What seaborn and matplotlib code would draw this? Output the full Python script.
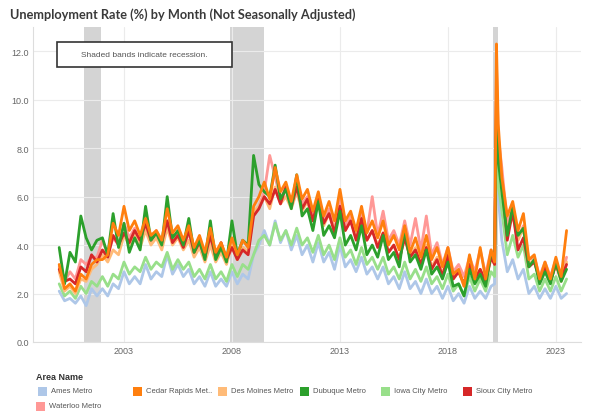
import pandas as pd
import matplotlib.pyplot as plt
import matplotlib.dates as mdates
from matplotlib.patches import Rectangle
import seaborn as sns

# --- DATA (quarterly readings Jan/Apr/Jul/Oct, plus extra months around the 2020 spike) ---
covid_months = ['2020-01-01', '2020-03-01', '2020-04-01', '2020-05-01', '2020-07-01', '2020-10-01']
dates = (list(pd.date_range('2000-01-01', '2019-10-01', freq='QS'))
         + list(pd.to_datetime(covid_months))
         + list(pd.date_range('2021-01-01', '2023-07-01', freq='QS')))

areas = ['Ames Metro', 'Cedar Rapids Metro', 'Des Moines Metro', 'Dubuque Metro',
         'Iowa City Metro', 'Sioux City Metro', 'Waterloo Metro']
legend_labels = ['Ames Metro', 'Cedar Rapids Met..', 'Des Moines Metro', 'Dubuque Metro',
                 'Iowa City Metro', 'Sioux City Metro', 'Waterloo Metro']
colors = ['#aec7e8', '#ff7f0e', '#ffbb78', '#2ca02c', '#98df8a', '#d62728', '#ff9896']

ames = [2.1, 1.7, 1.8, 1.6, 1.9, 1.5, 2.2, 1.9, 2.2, 1.9, 2.4, 2.2,
        2.9, 2.4, 2.7, 2.4, 3.2, 2.6, 2.9, 2.7, 3.6, 2.8, 3.2, 2.7,
        3.0, 2.4, 2.7, 2.3, 2.9, 2.3, 2.6, 2.3, 2.9, 2.4, 2.8, 2.6,
        3.6, 4.0, 4.6, 4.0, 5.0, 4.1, 4.6, 3.8, 4.4, 3.6, 4.0, 3.3,
        4.1, 3.3, 3.7, 3.0, 4.0, 3.1, 3.4, 2.9, 3.5, 2.8, 3.1, 2.6,
        3.1, 2.4, 2.7, 2.2, 2.9, 2.2, 2.5, 2.0, 2.6, 2.0, 2.3, 1.8,
        2.3, 1.7, 2.0, 1.6, 2.3, 1.8, 2.1, 1.8, 2.3, 2.4, 7.8, 6.0, 4.2, 2.9,
        3.4, 2.6, 3.0, 2.0, 2.3, 1.8, 2.2, 1.8, 2.3, 1.8, 2.0]

cedar_rapids = [3.2, 2.2, 2.4, 2.1, 2.8, 2.6, 3.2, 3.4, 3.4, 3.6, 4.9, 4.4,
                5.6, 4.6, 5.0, 4.4, 5.1, 4.4, 4.6, 4.2, 5.5, 4.5, 4.8, 4.2,
                4.8, 3.9, 4.4, 3.7, 4.7, 3.7, 4.1, 3.5, 4.3, 3.6, 4.2, 3.9,
                5.6, 6.0, 6.6, 5.9, 7.2, 6.2, 6.6, 5.8, 6.9, 5.9, 6.3, 5.4,
                6.2, 5.2, 5.8, 5.0, 6.3, 5.0, 5.4, 4.6, 5.6, 4.5, 5.0, 4.3,
                5.0, 4.0, 4.4, 3.8, 4.8, 3.7, 4.3, 3.5, 4.4, 3.4, 3.9, 3.1,
                3.9, 2.8, 3.0, 2.3, 3.6, 2.6, 3.9, 2.6, 3.8, 3.3, 12.3, 9.0, 6.8, 5.2,
                5.8, 4.6, 5.3, 3.4, 3.6, 2.6, 3.3, 2.6, 3.5, 2.7, 4.6]

des_moines = [2.9, 2.1, 2.3, 2.0, 2.6, 2.5, 3.0, 3.2, 3.6, 3.3, 3.8, 3.6,
              4.4, 4.0, 4.4, 3.9, 4.6, 4.0, 4.3, 3.8, 4.7, 4.0, 4.3, 3.8,
              4.2, 3.5, 3.9, 3.3, 4.0, 3.3, 3.7, 3.2, 4.0, 3.4, 3.9, 3.7,
              5.4, 5.6, 6.0, 5.5, 6.4, 5.7, 6.0, 5.5, 6.2, 5.4, 5.8, 5.0,
              5.7, 4.8, 5.3, 4.6, 5.5, 4.6, 5.0, 4.3, 5.0, 4.2, 4.6, 4.0,
              4.5, 3.7, 4.0, 3.4, 4.3, 3.5, 3.9, 3.2, 4.0, 3.1, 3.5, 2.8,
              3.5, 2.6, 2.9, 2.3, 3.2, 2.5, 3.0, 2.4, 3.5, 3.2, 10.8, 8.0, 6.2, 4.6,
              5.2, 4.2, 4.7, 3.2, 3.4, 2.6, 3.1, 2.5, 3.2, 2.5, 3.3]

dubuque = [3.9, 2.4, 3.7, 3.3, 5.2, 4.3, 3.8, 4.2, 4.3, 3.6, 5.3, 3.9,
           4.9, 3.7, 4.3, 3.8, 5.6, 4.2, 4.5, 4.0, 6.0, 4.3, 4.6, 4.0,
           5.1, 3.7, 4.2, 3.4, 5.0, 3.4, 3.9, 3.3, 5.0, 3.6, 4.2, 4.0,
           7.7, 6.5, 6.2, 6.0, 7.3, 5.9, 6.3, 5.5, 6.9, 5.2, 5.5, 4.6,
           5.8, 4.4, 4.8, 4.3, 5.4, 4.0, 4.4, 3.8, 4.8, 3.6, 4.0, 3.5,
           4.4, 3.4, 3.7, 3.1, 4.7, 3.3, 3.6, 3.0, 3.8, 2.8, 3.1, 2.6,
           3.3, 2.3, 2.4, 1.9, 3.0, 2.4, 2.8, 2.3, 3.7, 3.4, 9.6, 7.5, 6.2, 4.4,
           5.6, 4.4, 4.7, 3.1, 3.4, 2.4, 2.9, 2.4, 3.3, 2.5, 3.0]

iowa_city = [2.4, 1.9, 2.1, 1.8, 2.3, 2.0, 2.5, 2.3, 2.7, 2.3, 2.8, 2.6,
             3.3, 2.8, 3.1, 2.9, 3.5, 3.0, 3.3, 3.1, 3.7, 3.0, 3.4, 3.0,
             3.3, 2.7, 3.0, 2.6, 3.2, 2.6, 2.9, 2.5, 3.2, 2.7, 3.2, 3.0,
             3.6, 4.2, 4.4, 4.0, 4.9, 4.2, 4.6, 4.0, 4.7, 4.0, 4.3, 3.7,
             4.4, 3.6, 4.0, 3.4, 4.3, 3.5, 3.8, 3.2, 3.9, 3.2, 3.5, 3.0,
             3.5, 2.8, 3.1, 2.6, 3.3, 2.6, 3.0, 2.5, 3.1, 2.4, 2.7, 2.2,
             2.8, 2.1, 2.4, 1.9, 2.7, 2.1, 2.6, 2.1, 2.9, 2.7, 8.0, 6.5, 5.4, 3.6,
             4.4, 3.5, 4.0, 2.6, 2.8, 2.1, 2.6, 2.1, 2.7, 2.1, 2.6]

sioux_city = [3.0, 2.5, 2.6, 2.4, 3.1, 2.9, 3.6, 3.3, 3.8, 3.5, 4.4, 4.0,
              4.5, 4.1, 4.6, 4.2, 4.9, 4.2, 4.5, 4.1, 5.0, 4.1, 4.4, 3.9,
              4.6, 3.7, 4.1, 3.5, 4.4, 3.5, 4.1, 3.4, 3.9, 3.4, 3.8, 3.6,
              5.2, 5.5, 6.0, 5.7, 6.3, 5.7, 6.4, 5.6, 6.4, 5.5, 5.9, 5.0,
              5.9, 4.9, 5.3, 4.5, 5.6, 4.6, 5.0, 4.2, 5.1, 4.2, 4.6, 3.9,
              4.5, 3.7, 4.0, 3.4, 4.3, 3.5, 3.8, 3.2, 3.9, 3.0, 3.4, 2.7,
              3.6, 2.6, 2.9, 2.4, 3.2, 2.6, 3.0, 2.5, 3.5, 3.2, 10.2, 7.6, 6.6, 4.2,
              5.4, 3.8, 4.3, 3.1, 3.3, 2.6, 3.1, 2.5, 3.2, 2.6, 3.2]

waterloo = [3.1, 2.5, 2.9, 2.6, 3.4, 3.2, 3.5, 3.5, 4.2, 3.6, 4.3, 4.0,
            4.9, 4.3, 4.7, 4.1, 4.8, 4.2, 4.6, 4.1, 5.0, 4.1, 4.5, 3.9,
            4.5, 3.7, 4.2, 3.5, 4.3, 3.4, 3.9, 3.3, 4.1, 3.4, 3.9, 3.7,
            5.3, 5.6, 6.2, 7.7, 6.8, 5.9, 6.4, 5.6, 6.6, 5.7, 6.0, 5.2,
            6.0, 5.0, 5.5, 4.6, 5.9, 4.8, 5.2, 4.5, 5.4, 4.5, 6.0, 4.4,
            5.4, 4.2, 4.6, 4.0, 5.0, 4.0, 5.1, 3.8, 5.2, 3.6, 4.1, 3.2,
            3.9, 2.9, 3.2, 2.7, 3.5, 2.9, 3.8, 2.8, 3.8, 3.5, 11.5, 8.5, 7.2, 4.9,
            5.5, 4.3, 4.8, 3.4, 3.5, 2.7, 3.3, 2.7, 3.4, 2.6, 3.5]

series = [ames, cedar_rapids, des_moines, dubuque, iowa_city, sioux_city, waterloo]

rec_start = ['2001-03-01', '2007-12-01', '2020-02-01']
rec_end = ['2001-11-30', '2009-06-30', '2020-04-30']

year_ticks = ['2003-01-01', '2008-01-01', '2013-01-01', '2018-01-01', '2023-01-01']

# long-form table
df = pd.concat([pd.DataFrame({'date': dates, 'area': a, 'rate': v})
                for a, v in zip(areas, series)], ignore_index=True)
palette = dict(zip(areas, colors))
draw_order = ['Ames Metro', 'Iowa City Metro', 'Waterloo Metro', 'Des Moines Metro',
              'Sioux City Metro', 'Dubuque Metro', 'Cedar Rapids Metro']

sns.set_style('white')
plt.rcParams['font.family'] = ['Liberation Sans', 'DejaVu Sans']

W, H = 589, 414
fig = plt.figure(figsize=(W / 100, H / 100), dpi=100)
ax = fig.add_axes([33 / W, 71 / H, 548 / W, 315 / H])

for s, e in zip(rec_start, rec_end):
    ax.axvspan(pd.Timestamp(s), pd.Timestamp(e), color='#d4d4d4', lw=0, zorder=0)

sns.lineplot(data=df, x='date', y='rate', hue='area', hue_order=draw_order,
             palette=palette, linewidth=2.0, legend=False, ax=ax, zorder=3)

ax.set_xlim(pd.Timestamp('1998-10-15'), pd.Timestamp('2024-03-01'))
ax.set_ylim(0, 13.0)
ax.set_yticks([0, 2, 4, 6, 8, 10, 12])
ax.set_yticklabels([f'{v:.1f}' for v in [0, 2, 4, 6, 8, 10, 12]])
ax.set_xticks(pd.to_datetime(year_ticks))
ax.xaxis.set_major_formatter(mdates.DateFormatter('%Y'))
ax.set_xlabel('')
ax.set_ylabel('')
ax.grid(True, color='#ebebeb', lw=0.8, zorder=0)
ax.set_axisbelow(True)
ax.tick_params(axis='both', labelsize=6.5, labelcolor='#666666', length=0, pad=3)
for side in ['top', 'right']:
    ax.spines[side].set_visible(False)
for side in ['left', 'bottom']:
    ax.spines[side].set_color('#dddddd')
    ax.spines[side].set_linewidth(0.8)

# note box
fig.add_artist(Rectangle((57 / W, 1 - 68 / H), 175 / W, 25 / H, transform=fig.transFigure,
                         facecolor='white', edgecolor='#333333', lw=1.2, zorder=5))
fig.text(144.5 / W, 1 - 55.5 / H, 'Shaded bands indicate recession.', fontsize=6,
         color='#555555', ha='center', va='center', zorder=6)

fig.text(10 / W, 1 - 15 / H, 'Unemployment Rate (%) by Month (Not Seasonally Adjusted)',
         fontsize=9.2, fontweight='bold', color='#3a3a3a', ha='left', va='center',
         family=['Lato', 'DejaVu Sans'])

# legend
fig.text(36 / W, 1 - 378 / H, 'Area Name', fontsize=6.5, fontweight='bold', color='#333333',
         ha='left', va='center')
leg_x = [38, 133, 218, 300, 381, 463, 36]
leg_y = [392, 392, 392, 392, 392, 392, 407]
for lab, c, x, y in zip(legend_labels, colors, leg_x, leg_y):
    fig.add_artist(Rectangle((x / W, 1 - (y + 4.5) / H), 9 / W, 9 / H,
                             transform=fig.transFigure, facecolor=c, edgecolor='none'))
    fig.text((x + 13) / W, 1 - y / H, lab, fontsize=5.5, color='#555555', ha='left', va='center')

fig.savefig('out.png', dpi=100)
